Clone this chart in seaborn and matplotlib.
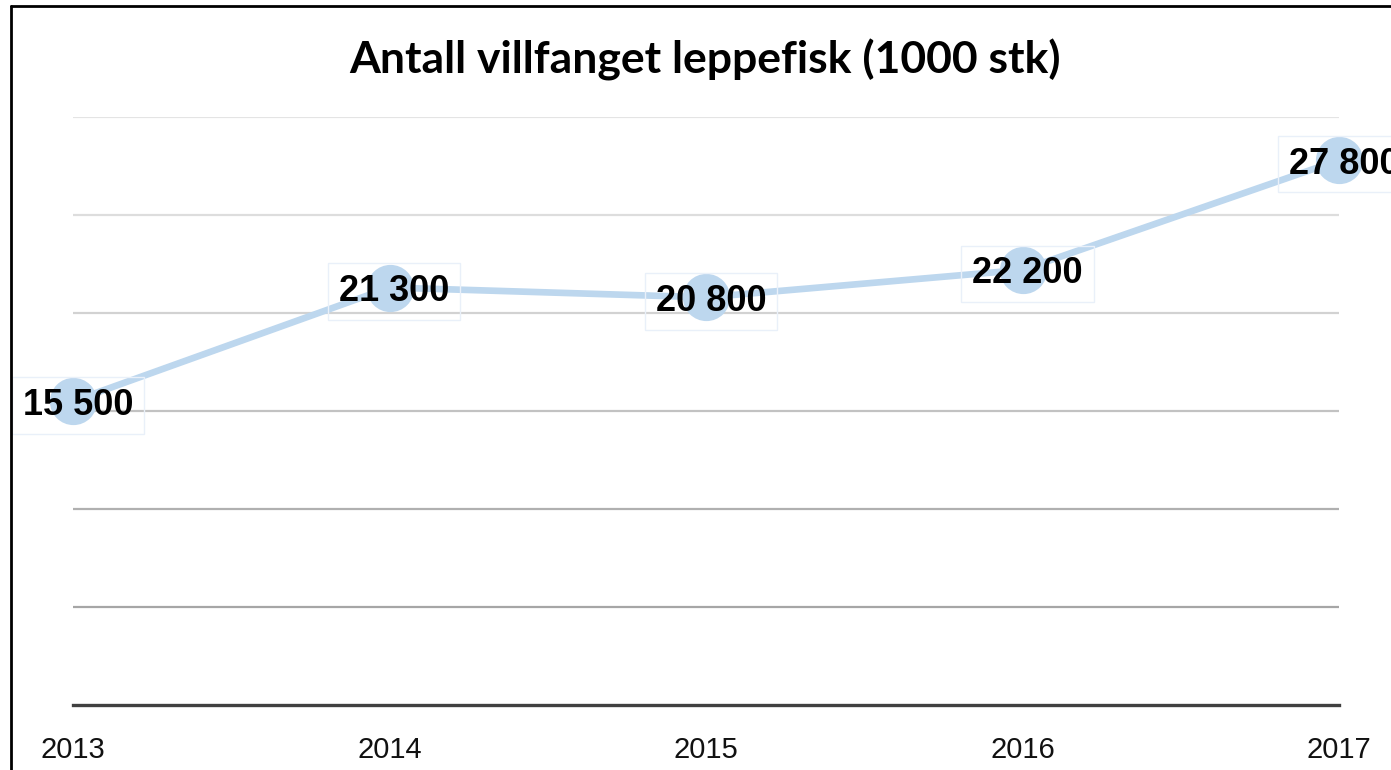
import matplotlib
matplotlib.use("Agg")
import matplotlib.pyplot as plt
from matplotlib.lines import Line2D
import seaborn as sns
import pandas as pd

# ===== DONNEES =====
years = [2013, 2014, 2015, 2016, 2017]
catch = [15500, 21300, 20800, 22200, 27800]
title = "Antall villfanget leppefisk (1000 stk)"

df = pd.DataFrame({"year": years, "catch": catch})

sns.set_style("white")
plt.rcParams["font.family"] = ["Liberation Sans", "DejaVu Sans"]

fig = plt.figure(figsize=(13.91, 7.70), dpi=100)
ax = fig.add_axes([73 / 1391, 1 - 705 / 770, (1339 - 73) / 1391, (705 - 117) / 770])

line_col = "#bdd7ee"
sns.lineplot(data=df, x="year", y="catch", ax=ax, color=line_col, lw=4.8,
             marker="o", markersize=34, markeredgewidth=0, clip_on=False, zorder=3)

ax.set_xlim(years[0], years[-1])
ax.set_ylim(0, 30000)
ax.set_xticks(years)
ax.set_xticklabels([str(y) for y in years], fontsize=21, color="#111111")
ax.set_yticks(range(0, 30001, 5000))
ax.set_yticklabels([])
ax.tick_params(axis="both", length=0)
ax.tick_params(axis="x", pad=22)
ax.set_xlabel("")
ax.set_ylabel("")

# grille avec un léger dégradé de gris
ax.grid(axis="y", lw=1.6)
grid_cols = ["#ffffff", "#a6a6a6", "#b0b0b0", "#c2c2c2", "#d2d2d2", "#dddddd", "#e4e4e4"]
for gl, c in zip(ax.yaxis.get_gridlines(), grid_cols):
    gl.set_color(c)
ax.set_axisbelow(True)

for s in ["left", "right", "top"]:
    ax.spines[s].set_visible(False)
ax.spines["bottom"].set_color("#404040")
ax.spines["bottom"].set_linewidth(2.4)

# étiquettes de données
for x, v in zip(years, catch):
    ax.annotate(f"{v:,}".replace(",", " "), (x, v), xytext=(3.5, -9.7),
                textcoords="offset points", ha="center", va="baseline",
                fontsize=26, fontweight="bold", color="black", zorder=5,
                annotation_clip=False,
                bbox=dict(boxstyle="square,pad=0.3", fc="none", ec="#e9f0f9", lw=1))

fig.text(0.507, 0.922, title, ha="center", va="center", fontsize=32,
         fontweight="bold", color="black", family=["Lato", "DejaVu Sans"])

# cadre noir (gauche et haut)
fig.add_artist(Line2D([11 / 1391, 11 / 1391], [0, 1 - 6 / 770], color="black", lw=2,
                      transform=fig.transFigure))
fig.add_artist(Line2D([11 / 1391, 1], [1 - 6 / 770, 1 - 6 / 770], color="black", lw=2,
                      transform=fig.transFigure))

fig.savefig("out.png", dpi=100)
